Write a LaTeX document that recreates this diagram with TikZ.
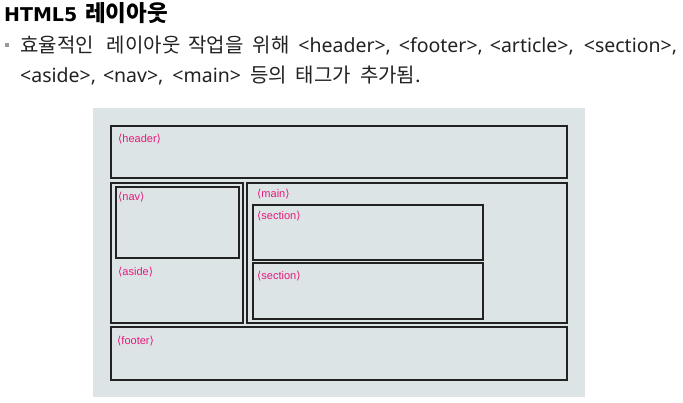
\documentclass[tikz,border=0pt]{standalone}
\usepackage{fontspec}
\setmainfont{Noto Sans}
\newfontfamily\krfont{Noto Sans CJK KR}
\newfontfamily\latfont{Noto Sans}
\newfontfamily\titlelat{DejaVu Sans}
\newfontfamily\lblfont{Liberation Sans}
\newfontfamily\symfont{DejaVu Sans}
\definecolor{panelbg}{HTML}{DCE4E5}
\definecolor{tagpink}{HTML}{E6197D}
\definecolor{boxline}{HTML}{222222}
\definecolor{bodyink}{HTML}{222222}
\tikzset{
  layoutbox/.style={draw=boxline, line width=2pt, inner sep=0pt, outer sep=0pt, anchor=north west},
  taglabel/.style={anchor=west, inner sep=0pt, text=tagpink, font=\lblfont\fontsize{11}{12}\selectfont},
  bodytext/.style={anchor=base west, inner sep=0pt, text=bodyink},
}
\newcommand{\tg}[1]{{\symfont⟨}#1{\symfont⟩}}
\newcommand{\KR}[1]{{\krfont\fontsize{20}{23}\selectfont #1}}
\newcommand{\LT}[1]{{\latfont\fontsize{19.5}{22}\selectfont #1}}
\begin{document}
\begin{tikzpicture}[x=1pt,y=-1pt]
\useasboundingbox (0,0) rectangle (683,403);
\fill[white] (0,0) rectangle (683,403);
% title and text
\node[anchor=base west, inner sep=0pt, text=black] (title) at (4,21.5)
  {{\titlelat\bfseries\fontsize{19}{20}\selectfont HTML5}\hspace{8pt}{\krfont\bfseries\fontsize{22.5}{25}\selectfont 레이아웃}};
\node[fill=gray!80, minimum size=4.5pt, inner sep=0pt] (bullet) at (7,45) {};
\node[bodytext] (line1) at (20,53)
  {\KR{효율적인}\hspace{13pt}\KR{레이아웃}\hspace{8pt}\KR{작업을}\hspace{9pt}\KR{위해}\hspace{9pt}\LT{<header>,}\hspace{8pt}\LT{<footer>,}\hspace{7pt}\LT{<article>,}\hspace{10pt}\LT{<section>,}};
\node[bodytext] (line2) at (20,83)
  {\LT{<aside>,}\hspace{7pt}\LT{<nav>,}\hspace{9pt}\LT{<main>}\hspace{9pt}\KR{등의}\hspace{9pt}\KR{태그가}\hspace{9pt}\KR{추가됨.}};
% panel
\fill[panelbg] (93,108) rectangle (585,397);
\node[layoutbox, minimum width=456pt, minimum height=52pt] (header) at (111,126) {};
\node[layoutbox, minimum width=131.5pt, minimum height=140pt] (aside) at (111,183) {};
\node[layoutbox, minimum width=123pt, minimum height=70.5pt] (nav) at (115.5,187.5) {};
\node[layoutbox, minimum width=320pt, minimum height=140pt] (main) at (247,183) {};
\node[layoutbox, minimum width=229.5pt, minimum height=55pt] (sec1) at (253,205) {};
\node[layoutbox, minimum width=229.5pt, minimum height=55.5pt] (sec2) at (253,263.5) {};
\node[layoutbox, minimum width=456pt, minimum height=52.5pt] (footer) at (111,327.5) {};
% labels
\node[taglabel] (lheader) at (118,139.5) {\tg{header}};
\node[taglabel] (lnav) at (118,197.5) {\tg{nav}};
\node[taglabel] (laside) at (118,272) {\tg{aside}};
\node[taglabel] (lmain) at (257,194.5) {\tg{main}};
\node[taglabel] (lsec1) at (257,216) {\tg{section}};
\node[taglabel] (lsec2) at (257,276) {\tg{section}};
\node[taglabel] (lfooter) at (117,341.5) {\tg{footer}};
\end{tikzpicture}
\end{document}
